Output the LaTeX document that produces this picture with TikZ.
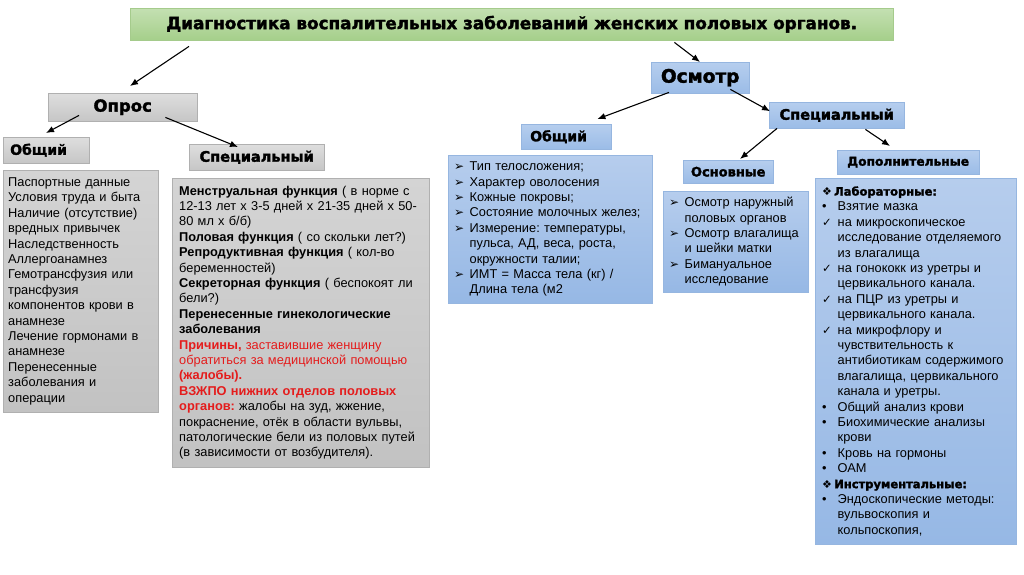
\documentclass[tikz,border=0pt]{standalone}
\usepackage{fontspec}
\setmainfont{Liberation Sans}
\newfontfamily\headfont{DejaVu Sans}[BoldFeatures={FakeBold=2}]
\newfontfamily\symfont{DejaVu Sans}
\usetikzlibrary{arrows.meta}

\definecolor{greentop}{RGB}{196,224,178}
\definecolor{greenbot}{RGB}{165,207,138}
\definecolor{greenline}{RGB}{165,203,140}
\definecolor{greytop}{RGB}{222,222,222}
\definecolor{greybot}{RGB}{198,198,198}
\definecolor{greyline}{RGB}{176,176,176}
\definecolor{panelgreytop}{RGB}{212,212,212}
\definecolor{panelgreybot}{RGB}{194,194,194}
\definecolor{bluetop}{RGB}{182,206,238}
\definecolor{bluebot}{RGB}{155,188,231}
\definecolor{blueline}{RGB}{150,182,224}
\definecolor{panelbluetop}{RGB}{182,205,237}
\definecolor{panelbluebot}{RGB}{150,184,229}
\definecolor{redtext}{RGB}{228,28,28}

\newcommand{\arrbul}{\makebox[15.5pt][l]{\symfont\fontsize{12}{12}\selectfont ➢}}
\newcommand{\chkbul}{\makebox[15.5pt][l]{\symfont\fontsize{11.5}{11.5}\selectfont ✓}}
\newcommand{\dotbul}{\makebox[15.5pt][l]{•}}
\newcommand{\diabul}{\makebox[12pt][l]{\symfont\fontsize{11}{11}\selectfont ❖}}
\newcommand{\itemgap}{\hspace*{15.5pt}}
\newcommand{\headtext}{\headfont\bfseries}

\begin{document}
\begin{tikzpicture}[x=1pt, y=-1pt,
  every node/.style={anchor=north west, inner sep=0pt},
  greenbox/.style={draw=greenline, top color=greentop, bottom color=greenbot},
  greybox/.style={draw=greyline, top color=greytop, bottom color=greybot},
  greypanel/.style={draw=greyline, top color=panelgreytop, bottom color=panelgreybot},
  bluebox/.style={draw=blueline, top color=bluetop, bottom color=bluebot},
  bluepanel/.style={draw=blueline, top color=panelbluetop, bottom color=panelbluebot},
  head/.style={font=\headtext\fontsize{#1}{#1}\selectfont},
  lefthead/.style={align=left, text width=72pt, inner xsep=#1},
  body/.style={align=left, font=\fontsize{12.8}{15.4}\selectfont\frenchspacing},
  arrow/.style={-{Latex[length=8pt,width=6.5pt]}, line width=1.1pt}]
\useasboundingbox (0,0) rectangle (1024,574);

% top
\node[greenbox, head=16.8, minimum width=763pt, minimum height=32pt] (title) at (130,8) {Диагностика воспалительных заболеваний женских половых органов.};

% left branch: interview
\node[greybox, head=16.5, minimum width=149pt, minimum height=28pt] (opros) at (48,93) {Опрос};
\node[greybox, head=14, lefthead=7pt, minimum height=26pt] (obshL) at (3,137) {Общий};
\node[greybox, head=14.5, minimum width=135pt, minimum height=26pt] (specL) at (189,144) {Специальный};
\node[greypanel, body, inner xsep=5pt, text width=145pt, minimum height=242pt] (obshLtext) at (3,170) {Паспортные данные\\
Условия труда и быта\\
Наличие (отсутствие)\\
вредных привычек\\
Наследственность\\
Аллергоанамнез\\
Гемотрансфузия или\\
трансфузия\\
компонентов крови в\\
анамнезе\\
Лечение гормонами в\\
анамнезе\\
Перенесенные\\
заболевания и\\
операции};
\node[greypanel, body, inner xsep=7pt, text width=243pt, minimum height=289pt] (specLtext) at (172,178) {\textbf{Менструальная функция} ( в норме с\\
12-13 лет х 3-5 дней х 21-35 дней х 50-\\
80 мл х б/б)\\
\textbf{Половая функция} ( со скольки лет?)\\
\textbf{Репродуктивная функция} ( кол-во\\
беременностей)\\
\textbf{Секреторная функция} ( беспокоят ли\\
бели?)\\
\textbf{Перенесенные гинекологические}\\
\textbf{заболевания}\\
{\color{redtext}\textbf{Причины,} заставившие женщину}\\
{\color{redtext}обратиться за медицинской помощью}\\
{\color{redtext}\textbf{(жалобы).}}\\
{\color{redtext}\textbf{ВЗЖПО нижних отделов половых}}\\
{\color{redtext}\textbf{органов:}} жалобы на зуд, жжение,\\
покраснение, отёк в области вульвы,\\
патологические бели из половых путей\\
(в зависимости от возбудителя).};

% right branch: examination
\node[bluebox, head=18.5, minimum width=98pt, minimum height=31pt] (osmotr) at (651,62) {Осмотр};
\node[bluebox, head=14, lefthead=9pt, minimum height=25pt] (obshR) at (521,124) {Общий};
\node[bluebox, head=14.5, minimum width=135pt, minimum height=26pt] (specR) at (769,102) {Специальный};
\node[bluebox, head=13, minimum width=90pt, minimum height=23pt] (osnov) at (683,160) {Основные};
\node[bluebox, head=12.2, minimum width=142pt, minimum height=24pt] (dop) at (837,150) {Дополнительные};
\node[bluepanel, body, inner xsep=6pt, text width=192pt, minimum height=148pt] (obshRtext) at (448,155) {\arrbul Тип телосложения;\\
\arrbul Характер оволосения\\
\arrbul Кожные покровы;\\
\arrbul Состояние молочных желез;\\
\arrbul Измерение: температуры,\\
\itemgap пульса, АД, веса, роста,\\
\itemgap окружности талии;\\
\arrbul ИМТ = Масса тела (кг) /\\
\itemgap Длина тела (м2};
\node[bluepanel, body, inner xsep=6pt, text width=133pt, minimum height=101pt] (osnovtext) at (663,191) {\arrbul Осмотр наружный\\
\itemgap половых органов\\
\arrbul Осмотр влагалища\\
\itemgap и шейки матки\\
\arrbul Бимануальное\\
\itemgap исследование};
\node[bluepanel, body, inner xsep=7pt, text width=187pt, minimum height=366pt] (doptext) at (815,178) {\diabul{\headtext\fontsize{11.5}{11.5}\selectfont Лабораторные:}\\
\dotbul Взятие мазка\\
\chkbul на микроскопическое\\
\itemgap исследование отделяемого\\
\itemgap из влагалища\\
\chkbul на гонококк из уретры и\\
\itemgap цервикального канала.\\
\chkbul на ПЦР из уретры и\\
\itemgap цервикального канала.\\
\chkbul на микрофлору и\\
\itemgap чувствительность к\\
\itemgap антибиотикам содержимого\\
\itemgap влагалища, цервикального\\
\itemgap канала и уретры.\\
\dotbul Общий анализ крови\\
\dotbul Биохимические анализы\\
\itemgap крови\\
\dotbul Кровь на гормоны\\
\dotbul ОАМ\\
\diabul{\headtext\fontsize{11.5}{11.5}\selectfont Инструментальные:}\\
\dotbul Эндоскопические методы:\\
\itemgap вульвоскопия и\\
\itemgap кольпоскопия,};

% connectors
\draw[arrow] ([xshift=59pt,yshift=-6pt]title.south west) -- ([xshift=82pt,yshift=7pt]opros.north west);
\draw[arrow] ([xshift=-219pt,yshift=-2pt]title.south east) -- ([xshift=49pt]osmotr.north west);
\draw[arrow] ([xshift=31pt,yshift=6pt]opros.south west) -- ([xshift=43pt,yshift=4pt]obshL.north west);
\draw[arrow] ([xshift=-32pt,yshift=4pt]opros.south east) -- ([xshift=49pt,yshift=-3pt]specL.north west);
\draw[arrow] ([xshift=18pt,yshift=1pt]osmotr.south west) -- ([xshift=-14pt,yshift=5pt]obshR.north east);
\draw[arrow] ([xshift=-19pt,yshift=4pt]osmotr.south east) -- ([xshift=1pt,yshift=4pt]specR.west);
\draw[arrow] ([xshift=8pt]specR.south west) -- ([xshift=57pt,yshift=1pt]osnov.north west);
\draw[arrow] ([xshift=-39pt,yshift=-1pt]specR.south east) -- ([xshift=53pt,yshift=4pt]dop.north west);
\end{tikzpicture}
\end{document}
